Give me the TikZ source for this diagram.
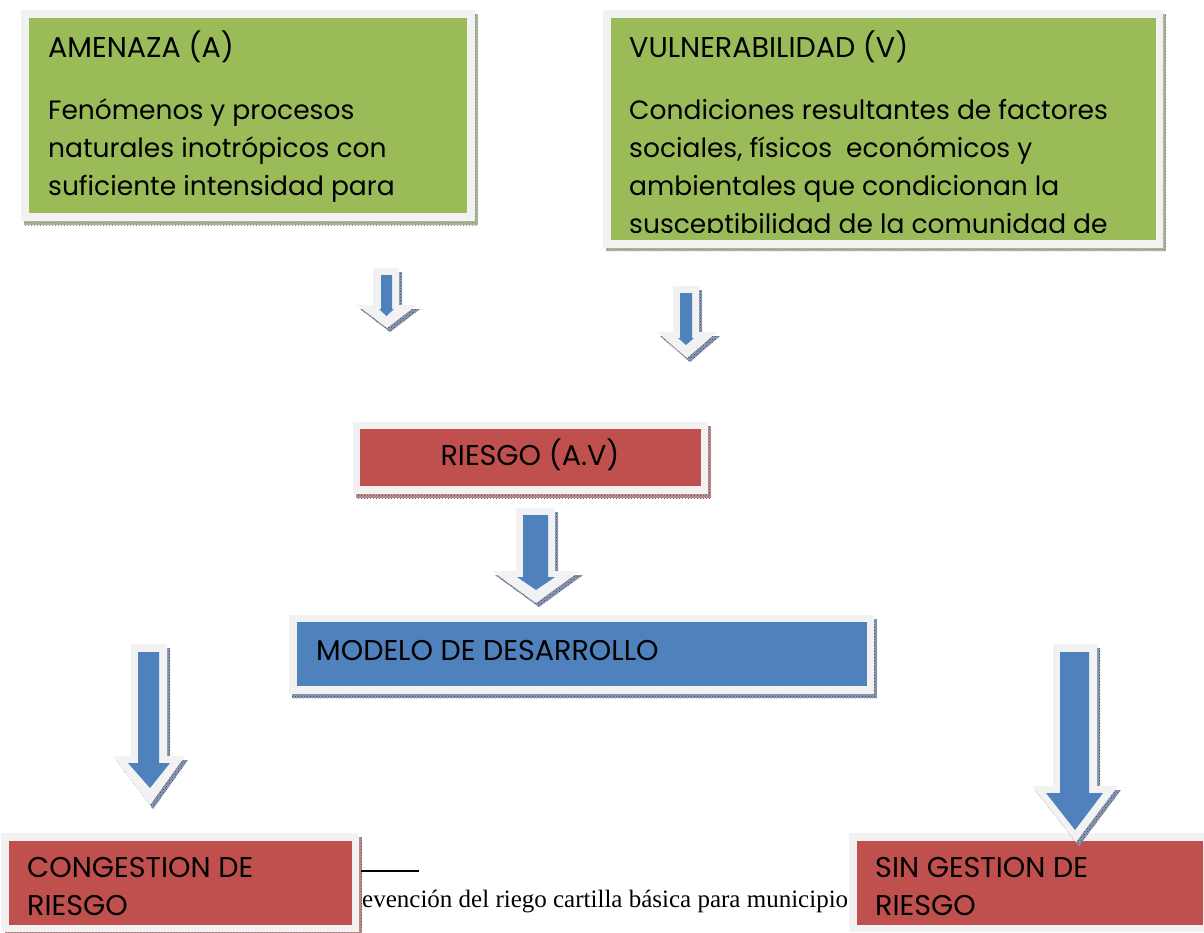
\documentclass[tikz,border=0pt]{standalone}
\usepackage{fontspec}
\newfontfamily\timesf{Liberation Serif}
\newfontfamily\gothicfont{Poppins}
\usetikzlibrary{patterns}
\definecolor{gfill}{HTML}{9BBB59}
\definecolor{rfill}{HTML}{C0504D}
\definecolor{bfill}{HTML}{4F81BD}
\definecolor{edgegray}{HTML}{F2F2F2}
\definecolor{gshad}{HTML}{6F7F55}
\definecolor{rshad}{HTML}{7E3A3A}
\definecolor{bshad}{HTML}{2F4670}
\tikzset{
  boxnode/.style={draw=edgegray, line width=7.5pt, fill=#1, inner sep=0pt, outer sep=0pt},
  shadtex/.style={pattern=crosshatch dots, pattern color=#1},
  shadbase/.style={fill=#1!55!white},
  txt/.style={font=\gothicfont\fontsize{26.5}{32}\selectfont, inner sep=0pt, anchor=base west, text=black},
  capt/.style={txt, font=\gothicfont\fontsize{28.6}{32}\selectfont},
  arrowout/.style={fill=edgegray},
  arrowin/.style={fill=bfill},
}
\begin{document}
\begin{tikzpicture}[x=1pt,y=-1pt]
\useasboundingbox (0,0) rectangle (1204,932);
\fill[white] (0,0) rectangle (1204,932);

% ---------- shadows of boxes ----------
\fill[shadbase=gshad] (24,14) rectangle (478,225);
\fill[shadtex=gshad] (24,14) rectangle (478,225);
\fill[shadbase=gshad] (606,14) rectangle (1166,251);
\fill[shadtex=gshad] (606,14) rectangle (1166,251);
\fill[shadbase=rshad] (356,426) rectangle (711,498);
\fill[shadtex=rshad] (356,426) rectangle (711,498);
\fill[shadbase=bshad] (292,619) rectangle (877,698);
\fill[shadtex=bshad] (292,619) rectangle (877,698);
\fill[shadbase=rshad] (5,837) rectangle (362,936);
\fill[shadtex=rshad] (5,837) rectangle (362,936);

% ---------- boxes ----------
\node[boxnode=gfill, minimum width=446pt, minimum height=203pt] (amenaza) at (248,115.5) {};
\node[boxnode=gfill, minimum width=552.5pt, minimum height=230pt] (vulner) at (883.25,129) {};
\node[boxnode=rfill, minimum width=348pt, minimum height=64.5pt] (riesgo) at (530.5,457.75) {};
\node[boxnode=bfill, minimum width=577.5pt, minimum height=71.5pt] (modelo) at (581.75,654.25) {};
\node[boxnode=rfill, minimum width=350.5pt, minimum height=91.5pt] (conges) at (180.25,882.75) {};
\node[boxnode=rfill, minimum width=354pt, minimum height=91.5pt] (singes) at (1030,882.75) {};

% ---------- texts ----------
\begin{scope}
\clip (29,18) rectangle (467,206);
\node[capt] (amt) at (48,57) {AMENAZA (A)};
\node[txt] (am1) at (48,119) {Fenómenos y procesos};
\node[txt] (am2) at (48,157) {naturales inotrópicos con};
\node[txt] (am3) at (48,195) {suficiente intensidad para};
\end{scope}
\begin{scope}
\clip (611,18) rectangle (1156,232);
\node[capt] (vut) at (629,57) {VULNERABILIDAD (V)};
\node[txt] (vu1) at (629,119) {Condiciones resultantes de factores};
\node[txt] (vu2) at (629,157) {sociales, físicos\ \ económicos y};
\node[txt] (vu3) at (629,195) {ambientales que condicionan la};
\node[txt] (vu4) at (629,233) {susceptibilidad de la comunidad de};
\end{scope}
\node[capt, anchor=base] (rit) at (530,465) {RIESGO (A.V)};
\node[capt] (mot) at (316,660) {MODELO DE DESARROLLO};
\node[capt] (co1) at (27,877) {CONGESTION DE};
\node[capt] (co2) at (27,915) {RIESGO};
\node[capt] (si1) at (875,877) {SIN GESTION DE};
\node[capt] (si2) at (875,915) {RIESGO};

% ---------- block arrows ----------
% arrow 1
\fill[shadbase=bshad,shift={(3,4)}] (373,268) -- (399,268) -- (399,305) -- (417,305) -- (387,328) -- (357,305) -- (373,305) -- cycle;
\fill[shadtex=bshad,shift={(3,4)}] (373,268) -- (399,268) -- (399,305) -- (417,305) -- (387,328) -- (357,305) -- (373,305) -- cycle;
\fill[arrowout] (373,268) -- (399,268) -- (399,305) -- (417,305) -- (387,328) -- (357,305) -- (373,305) -- cycle;
\fill[arrowin] (381,275) -- (392,275) -- (392,309) -- (394,309) -- (386.5,316) -- (379,309) -- (381,309) -- cycle;
% arrow 2
\fill[shadbase=bshad,shift={(3,4)}] (673,286) -- (699,286) -- (699,332) -- (717,332) -- (687,358) -- (657,332) -- (673,332) -- cycle;
\fill[shadtex=bshad,shift={(3,4)}] (673,286) -- (699,286) -- (699,332) -- (717,332) -- (687,358) -- (657,332) -- (673,332) -- cycle;
\fill[arrowout] (673,286) -- (699,286) -- (699,332) -- (717,332) -- (687,358) -- (657,332) -- (673,332) -- cycle;
\fill[arrowin] (680,293) -- (692,293) -- (692,338) -- (694,338) -- (686,345) -- (678,338) -- (680,338) -- cycle;
% arrow 3
\fill[shadbase=bshad,shift={(3,4)}] (516,508) -- (555,508) -- (555,571) -- (580,571) -- (536,603) -- (492,571) -- (516,571) -- cycle;
\fill[shadtex=bshad,shift={(3,4)}] (516,508) -- (555,508) -- (555,571) -- (580,571) -- (536,603) -- (492,571) -- (516,571) -- cycle;
\fill[arrowout] (516,508) -- (555,508) -- (555,571) -- (580,571) -- (536,603) -- (492,571) -- (516,571) -- cycle;
\fill[arrowin] (523,515) -- (548,515) -- (548,577) -- (555,577) -- (536,590) -- (517,577) -- (523,577) -- cycle;
% arrow 4
\fill[shadbase=bshad,shift={(3,4)}] (131,644) -- (167,644) -- (167,756) -- (185,756) -- (150,805) -- (113,756) -- (131,756) -- cycle;
\fill[shadtex=bshad,shift={(3,4)}] (131,644) -- (167,644) -- (167,756) -- (185,756) -- (150,805) -- (113,756) -- (131,756) -- cycle;
\fill[arrowout] (131,644) -- (167,644) -- (167,756) -- (185,756) -- (150,805) -- (113,756) -- (131,756) -- cycle;
\fill[arrowin] (138,652) -- (159,652) -- (159,763) -- (170,763) -- (150,788) -- (128,763) -- (138,763) -- cycle;
% arrow 5
\fill[shadbase=bshad,shift={(3,4)}] (1053,644) -- (1097,644) -- (1097,786) -- (1118,786) -- (1076,842) -- (1032,786) -- (1053,786) -- cycle;
\fill[shadtex=bshad,shift={(3,4)}] (1053,644) -- (1097,644) -- (1097,786) -- (1118,786) -- (1076,842) -- (1032,786) -- (1053,786) -- cycle;
\fill[arrowout] (1053,644) -- (1097,644) -- (1097,786) -- (1118,786) -- (1076,842) -- (1032,786) -- (1053,786) -- cycle;
\fill[arrowin] (1060,652) -- (1089,652) -- (1089,793) -- (1103,793) -- (1075,830) -- (1046,793) -- (1060,793) -- cycle;

% ---------- footnote line and text ----------
\coordinate (ln1) at (361,871);
\coordinate (ln2) at (419,871);
\draw[line width=1.6pt] (ln1) -- (ln2);
\node[inner sep=0pt, anchor=base west, font=\timesf\fontsize{25}{30}\selectfont] (foot) at (362,907) {evención del riego cartilla básica para municipio};
\end{tikzpicture}
\end{document}
